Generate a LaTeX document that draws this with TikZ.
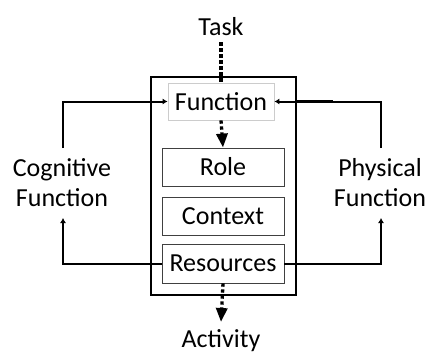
\documentclass[tikz,border=0pt]{standalone}
\usepackage{fontspec}
\setmainfont{Carlito}
\usetikzlibrary{arrows.meta}
\tikzset{
  caixa/.style={draw=black!75, line width=0.8pt, minimum width=122pt, minimum height=38pt, inner sep=0pt},
  pontilhado/.style={line width=3.3pt, dash pattern=on 3.3pt off 2.7pt},
  seta/.style={line width=2pt, -{Latex[width=6pt,length=5pt]}},
  ponta/.style={-{Triangle[width=11pt,length=14pt]}}
}
\begin{document}
\begin{tikzpicture}[x=1pt,y=-1pt,font=\fontsize{26}{30}\selectfont]
\useasboundingbox (0,0) rectangle (427,354);

% caixa externa
\draw[line width=2.6pt] (151,77) rectangle (296,295);

% caixas internas
\node[draw=black!20, line width=0.8pt, minimum width=106pt, minimum height=37pt, inner sep=0pt] (funcao) at (221,101.5) {Function};
\node[caixa] (papel) at (223,167) {Role};
\node[caixa] (contexto) at (223,216) {Context};
\node[caixa, minimum height=39pt] (recursos) at (223,263.5) {Resources};

% rótulos
\node[inner sep=1pt] (tarefa) at (221,27) {Task};
\node (atividade) at (221,341) {Activity};
\node[align=center] (cognitiva) at (62,183) {Cognitive\\Function};
\node[align=center] (fisica) at (380,183) {Physical\\Function};

% pontos de dobra
\coordinate (cogbaixo) at (63,218);
\coordinate (cogcima) at (63,148);
\coordinate (fisbaixo) at (381,218);
\coordinate (fiscima) at (381,148);

% fluxo vertical
\draw[pontilhado, shorten <=5pt] (tarefa.south) -- (funcao.north);
\draw[pontilhado, ponta] (funcao.south) -- (papel.north);
\draw[pontilhado, ponta] (recursos.south) -- (221,322);

% lado cognitivo
\draw[seta] (recursos.west) -| (cogbaixo);
\draw[seta] (cogcima) |- (funcao.west);

% lado físico
\draw[seta] (recursos.east) -| (fisbaixo);
\draw[seta] (fiscima) |- (funcao.east);
\draw[line width=3pt] (296,101) -- (333,101);

\end{tikzpicture}
\end{document}
